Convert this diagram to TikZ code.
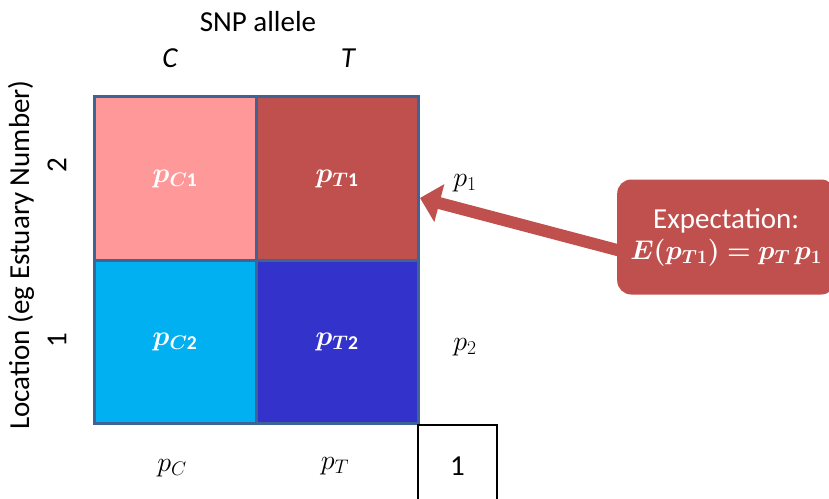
\RequirePackage{fix-cm}
\documentclass[tikz,border=0pt]{standalone}
\usepackage{fontspec}
\setmainfont{Carlito}
\usepackage{amsmath,bm}
\usetikzlibrary{arrows.meta}
\definecolor{pinkc}{RGB}{255,153,153}
\definecolor{redc}{RGB}{192,80,77}
\definecolor{cyanc}{RGB}{0,176,240}
\definecolor{bluec}{RGB}{51,51,204}
\definecolor{gridc}{RGB}{62,100,150}
\begin{document}
\begin{tikzpicture}[x=1pt,y=-1pt,
  every node/.style={font=\fontsize{29}{34}\selectfont, inner sep=0pt},
  mathf/.style={font=\fontsize{28}{33}\selectfont},
  cell/.style={draw=gridc, line width=3pt, minimum width=162pt, minimum height=163.5pt, text=white, mathf},
  lbl/.style={text=black},
  callout/.style={fill=redc, rounded corners=14pt, minimum width=218pt, minimum height=115pt, text=white, align=center, anchor=west},
  bigarrow/.style={draw=redc, line width=12pt, -{Triangle[length=20pt,width=38pt]}}
]
\useasboundingbox (0,0) rectangle (829,498);
% grid cells
\node[cell, fill=pinkc] (c1) at (175,178.5) {$\bm{p}_{\bm{C}\mathbf{1}}$};
\node[cell, fill=redc]  (t1) at (337,178.5) {$\bm{p}_{\bm{T}\mathbf{1}}$};
\node[cell, fill=cyanc] (c2) at (175,342) {$\bm{p}_{\bm{C}\mathbf{2}}$};
\node[cell, fill=bluec] (t2) at (337,342) {$\bm{p}_{\bm{T}\mathbf{2}}$};
% headers
\node[lbl] (snp) at (258,22) {SNP allele};
\node[lbl] (hc) at (170,58) {\itshape C};
\node[lbl] (ht) at (348,58) {\itshape T};
\node[lbl, rotate=90] (loc) at (21,255) {Location (eg Estuary Number)};
\node[lbl, rotate=90] (r2) at (57,165) {2};
\node[lbl, rotate=90] (r1) at (57,340) {1};
% marginals
\node[lbl, mathf] (p1) at (465,183) {$p_1$};
\node[lbl, mathf] (p2) at (465,347) {$p_2$};
\node[lbl, mathf] (pc) at (172,468) {$p_C$};
\node[lbl, mathf] (pt) at (335,466) {$p_T$};
\node[lbl, draw=black, line width=1.5pt, minimum width=79pt, minimum height=82pt, anchor=north] (one) at (457.5,424) {1};
% callout
\node[callout] (co) at (617,237) {Expectation:\\[-3pt] {\fontsize{27}{32}\selectfont $\bm{E(p_{T\mathbf{1}}) = p_T\, p_{\mathbf{1}}}$}};
\coordinate (astart) at (621,251);
\coordinate (atip) at (420,198);
\draw[bigarrow] (astart) -- (atip);
\end{tikzpicture}
\end{document}
